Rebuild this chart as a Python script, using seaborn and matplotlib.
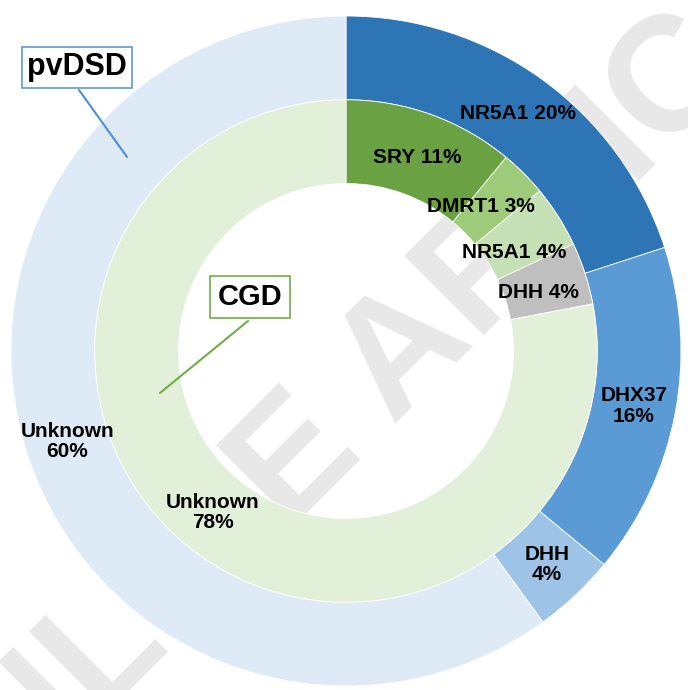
import numpy as np
import matplotlib
matplotlib.use("Agg")
import matplotlib.pyplot as plt
import seaborn as sns

# ---- data ----
outer_labels = ["NR5A1", "DHX37", "DHH", "Unknown"]
outer_values = [20, 16, 4, 60]
inner_labels = ["SRY", "DMRT1", "NR5A1", "DHH", "Unknown"]
inner_values = [11, 3, 4, 4, 78]
outer_title = "pvDSD"
inner_title = "CGD"
watermark = "ONLINE ARTICLE"

# ---- style ----
sns.set_theme(style="white")
plt.rcParams["font.family"] = ["Liberation Sans", "DejaVu Sans"]

outer_colors = ["#2E75B6", "#5B9BD5", "#9DC3E6", "#DEEBF7"]
inner_colors = ["#6AA142", "#9DCB7A", "#C5E0B4", "#BFBFBF", "#E2EFD9"]
outer_sep = [" ", "\n", "\n", "\n"]
inner_sep = [" ", " ", " ", " ", "\n"]
inner_nudge = [(0.0, -0.01), (-0.04, -0.01), (-0.025, -0.04), (-0.02, -0.02), (0.0, 0.0)]

W, H = 688, 690
cx, cy, R = 346, 351, 335  # pixel center and radius

fig = plt.figure(figsize=(W / 100, H / 100), dpi=100)
ax = fig.add_axes([0, 0, 1, 1])

def px(x, y):
    return ((x - cx) / R, (cy - y) / R)

w_out, _ = ax.pie(outer_values, radius=1.0, startangle=90, counterclock=False,
                  colors=outer_colors,
                  wedgeprops=dict(width=0.25, edgecolor="white", linewidth=0.6, zorder=2))
w_in, _ = ax.pie(inner_values, radius=0.75, startangle=90, counterclock=False,
                 colors=inner_colors,
                 wedgeprops=dict(width=0.25, edgecolor="white", linewidth=0.6, zorder=2))

ax.set_xlim(-cx / R, (W - cx) / R)
ax.set_ylim((cy - H) / R, cy / R)
ax.set_aspect("equal")
ax.axis("off")

fs = 15
for w, lab, v, sep in zip(w_out, outer_labels, outer_values, outer_sep):
    a = np.deg2rad((w.theta1 + w.theta2) / 2)
    r = 0.875
    ax.text(r * np.cos(a), r * np.sin(a), f"{lab}{sep}{v}%", ha="center", va="center",
            fontsize=fs, fontweight="bold", color="black", linespacing=1.1, zorder=5)

for w, lab, v, sep, (dx, dy) in zip(w_in, inner_labels, inner_values, inner_sep, inner_nudge):
    a = np.deg2rad((w.theta1 + w.theta2) / 2)
    r = 0.625
    ax.text(r * np.cos(a) + dx, r * np.sin(a) + dy, f"{lab}{sep}{v}%", ha="center", va="center",
            fontsize=fs, fontweight="bold", color="black", linespacing=1.1, zorder=5)

# watermark (behind the rings)
wx, wy = px(382, 378)
ax.text(wx, wy, watermark, rotation=45, rotation_mode="anchor", ha="center", va="center",
        fontsize=118, fontweight="bold", color="#E8E8E8", zorder=0.5,
        family=["Liberation Sans", "DejaVu Sans"])

# ring callouts
ax.plot(*zip(px(79, 90), px(127, 157)), color="#4A90D9", lw=1.5, zorder=6)
ax.text(*px(77, 67), outer_title, ha="center", va="center", fontsize=22, fontweight="bold",
        color="black", zorder=7,
        bbox=dict(boxstyle="square,pad=0.18", facecolor="white", edgecolor="#5B9BD5", linewidth=1.2))

ax.plot(*zip(px(248, 321), px(160, 393)), color="#70AD47", lw=1.5, zorder=6)
ax.text(*px(250, 297), inner_title, ha="center", va="center", fontsize=21, fontweight="bold",
        color="black", zorder=7,
        bbox=dict(boxstyle="square,pad=0.25", facecolor="white", edgecolor="#70AD47", linewidth=1.2))

fig.savefig("out.png", dpi=100, facecolor="white")
